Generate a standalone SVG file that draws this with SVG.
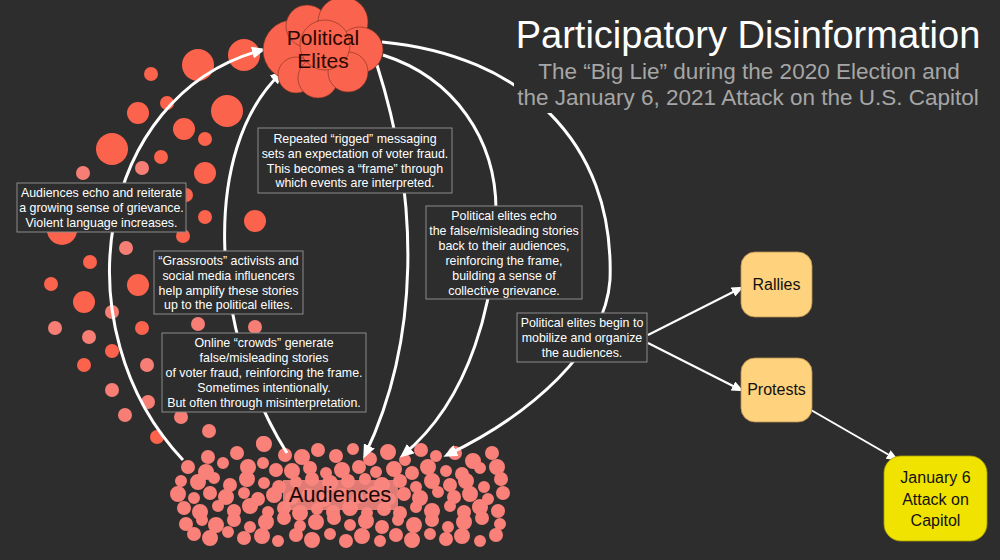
<svg xmlns="http://www.w3.org/2000/svg" width="1000" height="560" viewBox="0 0 1000 560">
<style>
.t{font-family:"Liberation Sans",Arial,Helvetica,sans-serif;}
.lbl{font-size:12.4px;fill:#ffffff;text-anchor:middle;}
.box{fill:#2d2d2d;stroke:#8c8c8c;stroke-width:1;}
.a{fill:#fb634c;}
.b{fill:#f77e75;}
.c{fill:#f98179;stroke:#f98179;stroke-width:2;}
.cl{fill:#fa634d;stroke:#7a3222;stroke-width:0.6;}
.big{fill:none;stroke:#ffffff;stroke-width:3;}
.sm{fill:none;stroke:#ffffff;stroke-width:2;}
.node{font-size:16px;fill:#111111;text-anchor:middle;}
</style>
<defs>
<marker id="ah" markerUnits="userSpaceOnUse" markerWidth="14" markerHeight="12" refX="10" refY="6" orient="auto">
<path d="M0,0 L14,6 L0,12 z" fill="#ffffff"/>
</marker>
<marker id="as" markerUnits="userSpaceOnUse" markerWidth="12" markerHeight="10" refX="9" refY="5" orient="auto">
<path d="M0,0 L12,5 L0,10 z" fill="#ffffff"/>
</marker>
</defs>
<rect x="0" y="0" width="1000" height="560" fill="#2d2d2d"/>

<g id="scatter-dots">
<circle class="a" cx="198" cy="65" r="16"/><circle class="a" cx="244" cy="55" r="16"/>
<circle class="a" cx="151" cy="74" r="7"/><circle class="a" cx="167" cy="103" r="7"/>
<circle class="a" cx="138" cy="113" r="11"/><circle class="a" cx="227" cy="111" r="16"/>
<circle class="a" cx="184" cy="129" r="11"/><circle class="a" cx="205" cy="139" r="7"/>
<circle class="a" cx="112" cy="149" r="16"/><circle class="a" cx="161" cy="157" r="7"/>
<circle class="a" cx="205" cy="173" r="11"/><circle class="a" cx="186" cy="195" r="7"/>
<circle class="a" cx="205" cy="217" r="7"/><circle class="a" cx="255" cy="221" r="11"/>
<circle class="a" cx="62" cy="230" r="15"/><circle class="a" cx="183" cy="236" r="7"/>
<circle class="a" cx="90" cy="262" r="7"/><circle class="a" cx="51" cy="284" r="7"/>
<circle class="a" cx="138" cy="285" r="11"/><circle class="a" cx="84" cy="302" r="11"/>
<circle class="a" cx="142" cy="328" r="7"/><circle class="a" cx="112" cy="351" r="7"/>
<circle class="a" cx="84" cy="365" r="7"/><circle class="a" cx="157" cy="437" r="7"/>
<circle class="b" cx="142" cy="168" r="7"/><circle class="b" cx="83" cy="173" r="7"/>
<circle class="b" cx="126" cy="248" r="7"/><circle class="b" cx="112" cy="312" r="7"/>
<circle class="b" cx="198" cy="324" r="7"/><circle class="b" cx="55" cy="328" r="7"/>
<circle class="b" cx="89" cy="337" r="7"/><circle class="b" cx="147" cy="365" r="7"/>
<circle class="b" cx="255" cy="327" r="7"/><circle class="b" cx="112" cy="390" r="7"/>
<circle class="b" cx="148" cy="402" r="7"/><circle class="b" cx="125" cy="415" r="7"/>
<circle class="b" cx="181" cy="417" r="7"/><circle class="b" cx="209" cy="431" r="7"/>
<circle class="b" cx="263" cy="443" r="7"/>
</g>

<g id="audiences">
<circle class="c" cx="264" cy="444" r="7"/><circle class="c" cx="285" cy="455" r="6"/><circle class="c" cx="302" cy="457" r="7"/><circle class="c" cx="318" cy="450" r="6"/><circle class="c" cx="336" cy="456" r="6"/><circle class="c" cx="353" cy="449" r="5"/><circle class="c" cx="370" cy="459" r="6"/><circle class="c" cx="388" cy="452" r="7"/><circle class="c" cx="405" cy="460" r="5"/><circle class="c" cx="421" cy="450" r="6"/><circle class="c" cx="436" cy="456" r="5"/><circle class="c" cx="455" cy="453" r="6"/><circle class="c" cx="473" cy="461" r="7"/><circle class="c" cx="492" cy="453" r="6"/><circle class="c" cx="237" cy="453" r="6"/><circle class="c" cx="208" cy="457" r="6"/>
<circle class="c" cx="188" cy="467" r="6"/><circle class="c" cx="223" cy="463" r="5"/><circle class="c" cx="248" cy="467" r="7"/><circle class="c" cx="263" cy="463" r="5"/><circle class="c" cx="276" cy="470" r="6"/><circle class="c" cx="292" cy="471" r="7"/><circle class="c" cx="310" cy="468" r="6"/><circle class="c" cx="326" cy="473" r="5"/><circle class="c" cx="342" cy="470" r="7"/><circle class="c" cx="359" cy="467" r="6"/><circle class="c" cx="376" cy="472" r="5"/><circle class="c" cx="394" cy="469" r="7"/><circle class="c" cx="412" cy="473" r="6"/><circle class="c" cx="428" cy="467" r="7"/><circle class="c" cx="446" cy="471" r="5"/><circle class="c" cx="462" cy="474" r="6"/><circle class="c" cx="480" cy="468" r="5"/><circle class="c" cx="497" cy="467" r="7"/><circle class="c" cx="206" cy="472" r="7"/>
<circle class="c" cx="181" cy="481" r="5"/><circle class="c" cx="198" cy="482" r="7"/><circle class="c" cx="214" cy="478" r="5"/><circle class="c" cx="230" cy="485" r="6"/><circle class="c" cx="247" cy="479" r="7"/><circle class="c" cx="264" cy="483" r="5"/><circle class="c" cx="279" cy="487" r="6"/><circle class="c" cx="296" cy="482" r="5"/><circle class="c" cx="312" cy="479" r="6"/><circle class="c" cx="330" cy="483" r="7"/><circle class="c" cx="348" cy="481" r="6"/><circle class="c" cx="365" cy="479" r="5"/><circle class="c" cx="382" cy="485" r="7"/><circle class="c" cx="400" cy="481" r="6"/><circle class="c" cx="416" cy="487" r="5"/><circle class="c" cx="432" cy="481" r="7"/><circle class="c" cx="450" cy="485" r="6"/><circle class="c" cx="466" cy="481" r="7"/><circle class="c" cx="484" cy="487" r="5"/><circle class="c" cx="501" cy="479" r="6"/>
<circle class="c" cx="178" cy="494" r="7"/><circle class="c" cx="194" cy="498" r="5"/><circle class="c" cx="210" cy="493" r="6"/><circle class="c" cx="226" cy="497" r="7"/><circle class="c" cx="244" cy="493" r="5"/><circle class="c" cx="258" cy="499" r="6"/><circle class="c" cx="274" cy="495" r="7"/><circle class="c" cx="292" cy="498" r="6"/><circle class="c" cx="308" cy="494" r="5"/><circle class="c" cx="324" cy="499" r="7"/><circle class="c" cx="342" cy="495" r="6"/><circle class="c" cx="358" cy="498" r="5"/><circle class="c" cx="374" cy="494" r="7"/><circle class="c" cx="390" cy="499" r="5"/><circle class="c" cx="404" cy="494" r="6"/><circle class="c" cx="420" cy="498" r="7"/><circle class="c" cx="438" cy="492" r="5"/><circle class="c" cx="454" cy="497" r="6"/><circle class="c" cx="470" cy="494" r="7"/><circle class="c" cx="488" cy="499" r="5"/><circle class="c" cx="503" cy="493" r="6"/>
<circle class="c" cx="184" cy="508" r="6"/><circle class="c" cx="200" cy="512" r="7"/><circle class="c" cx="218" cy="506" r="5"/><circle class="c" cx="234" cy="511" r="6"/><circle class="c" cx="250" cy="506" r="7"/><circle class="c" cx="268" cy="512" r="5"/><circle class="c" cx="284" cy="508" r="6"/><circle class="c" cx="300" cy="513" r="7"/><circle class="c" cx="317" cy="509" r="5"/><circle class="c" cx="333" cy="512" r="6"/><circle class="c" cx="350" cy="508" r="7"/><circle class="c" cx="367" cy="513" r="5"/><circle class="c" cx="384" cy="509" r="6"/><circle class="c" cx="400" cy="513" r="6"/><circle class="c" cx="416" cy="507" r="5"/><circle class="c" cx="432" cy="511" r="7"/><circle class="c" cx="450" cy="506" r="5"/><circle class="c" cx="464" cy="512" r="6"/><circle class="c" cx="480" cy="507" r="7"/><circle class="c" cx="498" cy="511" r="6"/>
<circle class="c" cx="186" cy="524" r="6"/><circle class="c" cx="202" cy="520" r="5"/><circle class="c" cx="216" cy="525" r="7"/><circle class="c" cx="234" cy="520" r="6"/><circle class="c" cx="250" cy="527" r="5"/><circle class="c" cx="266" cy="522" r="7"/><circle class="c" cx="284" cy="518" r="6"/><circle class="c" cx="300" cy="526" r="5"/><circle class="c" cx="316" cy="522" r="7"/><circle class="c" cx="334" cy="518" r="6"/><circle class="c" cx="350" cy="525" r="5"/><circle class="c" cx="366" cy="521" r="7"/><circle class="c" cx="382" cy="527" r="6"/><circle class="c" cx="398" cy="520" r="5"/><circle class="c" cx="414" cy="525" r="7"/><circle class="c" cx="432" cy="520" r="6"/><circle class="c" cx="448" cy="527" r="5"/><circle class="c" cx="464" cy="522" r="7"/><circle class="c" cx="482" cy="518" r="6"/><circle class="c" cx="500" cy="524" r="5"/>
<circle class="c" cx="194" cy="534" r="6"/><circle class="c" cx="210" cy="538" r="7"/><circle class="c" cx="228" cy="532" r="5"/><circle class="c" cx="244" cy="538" r="6"/><circle class="c" cx="262" cy="536" r="7"/><circle class="c" cx="278" cy="541" r="5"/><circle class="c" cx="296" cy="535" r="6"/><circle class="c" cx="312" cy="540" r="7"/><circle class="c" cx="330" cy="534" r="5"/><circle class="c" cx="346" cy="541" r="6"/><circle class="c" cx="362" cy="536" r="7"/><circle class="c" cx="380" cy="541" r="5"/><circle class="c" cx="396" cy="535" r="6"/><circle class="c" cx="412" cy="540" r="7"/><circle class="c" cx="430" cy="534" r="5"/><circle class="c" cx="446" cy="539" r="6"/><circle class="c" cx="462" cy="536" r="7"/><circle class="c" cx="480" cy="541" r="5"/><circle class="c" cx="496" cy="535" r="6"/>
<rect x="283" y="480" width="115" height="30" fill="#f8867e" opacity="0.88"/>
<text class="t" x="340" y="502" font-size="22" fill="#1a0808" text-anchor="middle">Audiences</text>
</g>

<g id="connectors">
<path class="big" d="M183,460 C60,330 95,95 262,50" marker-end="url(#ah)"/>
<path class="big" d="M287,453 C210,330 200,150 281,73" marker-end="url(#ah)"/>
<path class="big" d="M377,65 C420,200 420,340 365,455" marker-end="url(#ah)"/>
<path class="big" d="M383,55 C455,78 496,140 496,210 C497,300 470,400 403,455" marker-end="url(#ah)"/>
<path class="big" d="M382,42 C520,55 615,140 610,280 C605,350 530,415 447,455" marker-end="url(#ah)"/>
<path class="sm" d="M648,335 L741,288" marker-end="url(#as)"/>
<path class="sm" d="M648,343 L741,390" marker-end="url(#as)"/>
<path class="sm" d="M811,410 L896,459" marker-end="url(#as)"/>
</g>

<g id="political-elites">
<circle class="cl" cx="293" cy="50" r="30"/>
<circle class="cl" cx="307" cy="26" r="21"/>
<circle class="cl" cx="343" cy="22" r="25"/>
<circle class="cl" cx="360" cy="50" r="23"/>
<circle class="cl" cx="296" cy="75" r="18"/>
<circle class="cl" cx="318" cy="78" r="20"/>
<circle class="cl" cx="348" cy="72" r="20"/>
<circle class="cl" cx="325" cy="45" r="25"/>
<text class="t" x="323" y="45" font-size="21" fill="#2a0800" text-anchor="middle">Political</text>
<text class="t" x="323" y="68" font-size="21" fill="#2a0800" text-anchor="middle">Elites</text>
</g>

<g id="title">
<text class="t" x="748" y="48" font-size="38" fill="#ffffff" text-anchor="middle">Participatory Disinformation</text>
<rect x="514" y="58" width="470" height="55" fill="#2d2d2d"/>
<text class="t" x="749" y="79" font-size="22.5" fill="#a6a6a6" text-anchor="middle">The “Big Lie” during the 2020 Election and</text>
<text class="t" x="748" y="105" font-size="22.5" fill="#a6a6a6" text-anchor="middle">the January 6, 2021 Attack on the U.S. Capitol</text>
</g>

<g id="note-echo">
<rect class="box" x="17" y="183" width="169" height="49"/>
<text class="t lbl" x="101.5" y="197">Audiences echo and reiterate</text>
<text class="t lbl" x="101.5" y="212">a growing sense of grievance.</text>
<text class="t lbl" x="101.5" y="227">Violent language increases.</text>
</g>

<g id="note-rigged">
<rect class="box" x="258" y="128" width="194" height="65"/>
<text class="t lbl" x="355" y="143">Repeated “rigged” messaging</text>
<text class="t lbl" x="355" y="157.8">sets an expectation of voter fraud.</text>
<text class="t lbl" x="355" y="172.6">This becomes a “frame” through</text>
<text class="t lbl" x="355" y="187.4">which events are interpreted.</text>
</g>

<g id="note-elites-echo">
<rect class="box" x="426" y="206" width="156" height="93"/>
<text class="t lbl" x="504" y="219.5">Political elites echo</text>
<text class="t lbl" x="504" y="234.5">the false/misleading stories</text>
<text class="t lbl" x="504" y="249.5">back to their audiences,</text>
<text class="t lbl" x="504" y="264.5">reinforcing the frame,</text>
<text class="t lbl" x="504" y="279.5">building a sense of</text>
<text class="t lbl" x="504" y="294.5">collective grievance.</text>
</g>

<g id="note-grassroots">
<rect class="box" x="154" y="251" width="149" height="63"/>
<text class="t lbl" x="228.5" y="265">“Grassroots” activists and</text>
<text class="t lbl" x="228.5" y="279.8">social media influencers</text>
<text class="t lbl" x="228.5" y="294.6">help amplify these stories</text>
<text class="t lbl" x="228.5" y="309.4">up to the political elites.</text>
</g>

<g id="note-crowds">
<rect class="box" x="162" y="333" width="204" height="79"/>
<text class="t lbl" x="264" y="346.5">Online “crowds” generate</text>
<text class="t lbl" x="264" y="361.5">false/misleading stories</text>
<text class="t lbl" x="264" y="376.5">of voter fraud, reinforcing the frame.</text>
<text class="t lbl" x="264" y="391.5">Sometimes intentionally.</text>
<text class="t lbl" x="264" y="406.5">But often through misinterpretation.</text>
</g>

<g id="note-mobilize">
<rect class="box" x="517" y="313" width="130" height="49"/>
<text class="t lbl" x="582" y="327.3">Political elites begin to</text>
<text class="t lbl" x="582" y="342">mobilize and organize</text>
<text class="t lbl" x="582" y="356.7">the audiences.</text>
</g>

<g id="rallies">
<rect x="741" y="252" width="71" height="65" rx="14" fill="#ffd27d" stroke="#b8904e" stroke-width="0.8"/>
<text class="t node" x="776.5" y="290">Rallies</text>
</g>
<g id="protests">
<rect x="741" y="358" width="71" height="64" rx="14" fill="#ffd27d" stroke="#b8904e" stroke-width="0.8"/>
<text class="t node" x="776.5" y="395">Protests</text>
</g>
<g id="jan6">
<rect x="884" y="456" width="103" height="85" rx="17" fill="#f0e300" stroke="#a89e00" stroke-width="0.8"/>
<text class="t node" x="935.5" y="483" font-size="18">January 6</text>
<text class="t node" x="935.5" y="504.5" font-size="18">Attack on</text>
<text class="t node" x="935.5" y="526" font-size="18">Capitol</text>
</g>
</svg>
